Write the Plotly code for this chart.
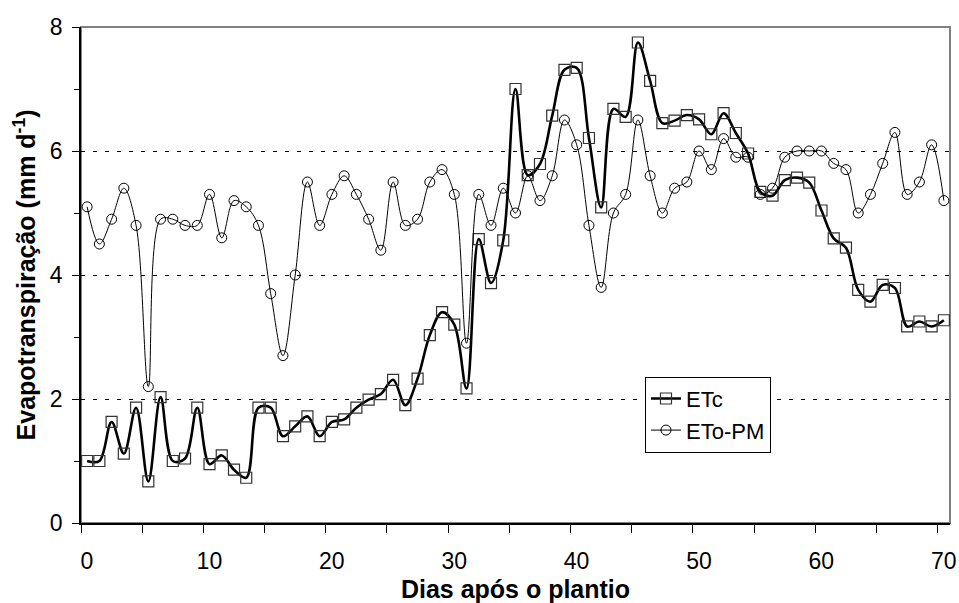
import plotly.graph_objects as go

days = list(range(1, 72))  # day index, plotted at mid-day

etc = [1.0, 1.0, 1.63, 1.12, 1.86, 0.67, 2.03, 1.0, 1.04, 1.86,
       0.95, 1.09, 0.86, 0.73, 1.86, 1.86, 1.40, 1.56, 1.72, 1.40,
       1.63, 1.67, 1.86, 1.99, 2.08, 2.31, 1.90, 2.33, 3.03, 3.40,
       3.20, 2.17, 4.58, 3.87, 4.56, 7.0, 5.61, 5.79, 6.57, 7.31,
       7.34, 6.21, 5.09, 6.68, 6.55, 7.75, 7.13, 6.45, 6.49, 6.58,
       6.51, 6.27, 6.61, 6.29, 5.96, 5.34, 5.28, 5.53, 5.57, 5.49,
       5.04, 4.59, 4.44, 3.76, 3.57, 3.84, 3.79, 3.17, 3.25, 3.17, 3.27]

eto = [5.1, 4.5, 4.9, 5.4, 4.8, 2.2, 4.9, 4.9, 4.8, 4.8,
       5.3, 4.6, 5.2, 5.1, 4.8, 3.7, 2.7, 4.0, 5.5, 4.8,
       5.3, 5.6, 5.3, 4.9, 4.4, 5.5, 4.8, 4.9, 5.5, 5.7,
       5.3, 2.9, 5.3, 4.8, 5.4, 5.0, 5.6, 5.2, 5.6, 6.5,
       6.1, 4.8, 3.8, 5.0, 5.3, 6.5, 5.6, 5.0, 5.4, 5.5,
       6.0, 5.7, 6.2, 5.9, 5.9, 5.3, 5.4, 5.9, 6.0, 6.0,
       6.0, 5.8, 5.7, 5.0, 5.3, 5.8, 6.3, 5.3, 5.5, 6.1, 5.2]

x_tick_vals = [0, 10, 20, 30, 40, 50, 60, 70]
y_tick_vals = [0, 2, 4, 6, 8]

x = [d - 0.5 for d in days]

fig = go.Figure()
fig.add_trace(go.Scatter(
    x=x, y=etc, name="ETc", mode="lines+markers",
    line=dict(color="black", width=2.6, shape="spline", smoothing=1),
    marker=dict(symbol="square-open", size=11, color="#333333",
                line=dict(width=1.2, color="#333333")),
))
fig.add_trace(go.Scatter(
    x=x, y=eto, name="ETo-PM", mode="lines+markers",
    line=dict(color="black", width=1, shape="spline", smoothing=1),
    marker=dict(symbol="circle-open", size=10, color="black",
                line=dict(width=1, color="black")),
))

# gray frame (top/right)
fig.add_shape(type="rect", xref="paper", yref="paper", x0=0, y0=0, x1=1, y1=1,
              line=dict(color="#808080", width=2), layer="below")

fig.update_layout(
    width=959, height=603,
    margin=dict(l=81, r=9, t=27, b=80, autoexpand=False),
    paper_bgcolor="white", plot_bgcolor="white",
    font=dict(family="Liberation Sans, Arial, sans-serif", color="black"),
    showlegend=True,
    legend=dict(x=0.649, y=0.295, xanchor="left", yanchor="top",
                bordercolor="black", borderwidth=1, bgcolor="white",
                font=dict(size=22), itemwidth=30, tracegroupgap=0),
    xaxis=dict(
        range=[0, 71], tickvals=x_tick_vals, ticks="outside", ticklen=8,
        tickcolor="black", tickfont=dict(size=23), showgrid=False,
        ticklabelshift=6, ticklabelstandoff=9,
        showline=True, linecolor="black", linewidth=1.5, zeroline=False,
        minor=dict(dtick=5, tick0=0, ticks="outside", ticklen=8, tickcolor="black"),
        title=dict(text="<b>Dias após o plantio</b>", font=dict(size=25), standoff=8),
        automargin=False,
    ),
    yaxis=dict(
        range=[0, 8], tickvals=y_tick_vals, ticks="outside", ticklen=7,
        tickcolor="black", tickfont=dict(size=23), ticklabelstandoff=5,
        showgrid=True, gridcolor="black", gridwidth=1, griddash="4px,8px",
        showline=True, linecolor="black", linewidth=1.5, zeroline=False,
        minor=dict(dtick=1, tick0=0, ticks="outside", ticklen=5, tickcolor="black"),
        title=dict(text="<b>Evapotranspiração (mm d<sup>-1</sup>)</b>",
                   font=dict(size=25), standoff=7),
        automargin=False,
    ),
)

fig.write_html("out.html", config={"displayModeBar": False})

# remove default page margin so the figure sits at the window's top-left
with open("out.html", "r", encoding="utf-8") as f:
    html = f.read()
html = html.replace("<body>", '<body style="margin:0;padding:0;overflow:hidden">', 1)
with open("out.html", "w", encoding="utf-8") as f:
    f.write(html)
